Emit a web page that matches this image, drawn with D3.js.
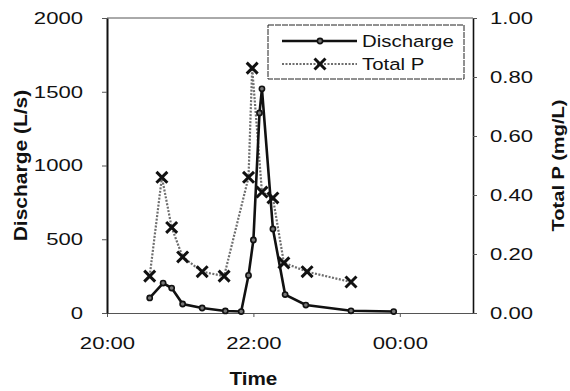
<!DOCTYPE html>
<html>
<head>
<meta charset="utf-8">
<script src="https://cdn.jsdelivr.net/npm/d3@7"></script>
<style>
  body { margin: 0; background: #fff; }
  svg text { font-family: "Liberation Sans", Arial, sans-serif; fill: #111; }
</style>
</head>
<body>
<svg id="chart"></svg>
<script>
// sample times (HH:MM, evening -> past midnight)
const dischargeTimes = ["20:35", "20:46", "20:53", "21:02", "21:18", "21:37", "21:50", "21:56",
  "22:00", "22:05", "22:07", "22:16", "22:26", "22:43", "23:20", "23:55"];
const dischargeValues = [102, 203, 169, 61, 34, 14, 10, 255, 495, 1356, 1520, 570, 125, 54, 15, 10];

const totalPTimes = ["20:35", "20:45", "20:53", "21:02", "21:18", "21:36", "21:56", "21:59",
  "22:07", "22:16", "22:25", "22:44", "23:20"];
const totalPValues = [0.125, 0.46, 0.29, 0.19, 0.14, 0.125, 0.46, 0.83, 0.41, 0.39, 0.17, 0.14, 0.105];

const leftTicks = [0, 500, 1000, 1500, 2000];
const rightTicks = [0, 0.2, 0.4, 0.6, 0.8, 1.0];
const timeTicks = ["20:00", "22:00", "00:00"];
const timeRange = ["20:00", "01:00"];

const width = 570, height = 391;
const margin = { top: 18, right: 97, bottom: 78, left: 107 };
const innerW = width - margin.left - margin.right;
const innerH = height - margin.top - margin.bottom;

// turn "HH:MM" into a Date, anything before noon belongs to the next day
function toDate(s) {
  const [h, m] = s.split(":").map(Number);
  return new Date(2000, 0, h < 12 ? 2 : 1, h, m);
}

// fonts in the scan are wider than Arial, stretch text along its baseline
function widen(sel, s) {
  sel.each(function () {
    const t = d3.select(this);
    const ax = +t.attr("x") || 0;
    t.attr("transform", `translate(${ax * (1 - s)},0) scale(${s},1)`);
  });
}

const svg = d3.select("#chart").attr("width", width).attr("height", height);
const g = svg.append("g").attr("transform", `translate(${margin.left},${margin.top})`);

const x = d3.scaleTime().domain(timeRange.map(toDate)).range([0, innerW]);
const yL = d3.scaleLinear().domain([0, 2000]).range([innerH, 0]);
const yR = d3.scaleLinear().domain([0, 1]).range([innerH, 0]);

// top border
g.append("line").attr("x1", 0).attr("x2", innerW).attr("y1", 0).attr("y2", 0)
  .attr("stroke", "#555").attr("stroke-width", 1);

// bottom axis
const gx = g.append("g").attr("transform", `translate(0,${innerH})`)
  .call(d3.axisBottom(x).tickValues(timeTicks.map(toDate)).tickFormat(d3.timeFormat("%H:%M"))
    .tickSizeInner(4).tickSizeOuter(0).tickPadding(20));
gx.select(".domain").attr("stroke", "#555").attr("stroke-width", 1);
gx.selectAll(".tick line").attr("stroke", "#555");
gx.selectAll("text").style("font-size", "17px");
widen(gx.selectAll("text"), 1.3);

// left axis
const gl = g.append("g")
  .call(d3.axisLeft(yL).tickValues(leftTicks).tickFormat(d3.format("d"))
    .tickSizeInner(5).tickSizeOuter(0).tickPadding(19));
gl.select(".domain").attr("stroke", "#111").attr("stroke-width", 2);
gl.selectAll(".tick line").attr("stroke", "#555");
gl.selectAll("text").style("font-size", "17px");
widen(gl.selectAll("text"), 1.3);

// right axis
const gr = g.append("g").attr("transform", `translate(${innerW},0)`)
  .call(d3.axisRight(yR).tickValues(rightTicks).tickFormat(d3.format(".2f"))
    .tickSizeInner(4).tickSizeOuter(0).tickPadding(13));
gr.select(".domain").attr("stroke", "#111").attr("stroke-width", 1.6);
gr.selectAll(".tick line").attr("stroke", "#555");
gr.selectAll("text").style("font-size", "17px");
widen(gr.selectAll("text"), 1.3);

// axis titles
svg.append("text")
  .attr("transform", `translate(27,${margin.top + innerH / 2}) rotate(-90) scale(1.2,1)`)
  .attr("text-anchor", "middle").style("font-size", "17.5px").style("font-weight", "bold")
  .text("Discharge (L/s)");
svg.append("text")
  .attr("transform", `translate(564,${margin.top + innerH / 2}) rotate(-90) scale(1.18,1)`)
  .attr("text-anchor", "middle").style("font-size", "17px").style("font-weight", "bold")
  .text("Total P (mg/L)");
svg.append("text")
  .attr("transform", `translate(${margin.left + x(toDate("22:00"))},385) scale(1.15,1)`)
  .attr("text-anchor", "middle").style("font-size", "18px").style("font-weight", "bold")
  .text("Time");

const discharge = dischargeTimes.map((t, i) => ({ t: toDate(t), v: dischargeValues[i] }));
const totalP = totalPTimes.map((t, i) => ({ t: toDate(t), v: totalPValues[i] }));

// Total P: dotted grey line with bold crosses
g.append("path").datum(totalP)
  .attr("fill", "none").attr("stroke", "#6e6e6e").attr("stroke-width", 2.2)
  .attr("stroke-dasharray", "2,1.5")
  .attr("d", d3.line().x(d => x(d.t)).y(d => yR(d.v)));

const cross = d3.symbol().type(d3.symbolTimes).size(80);
g.selectAll("path.tp").data(totalP).join("path").attr("class", "tp")
  .attr("transform", d => `translate(${x(d.t)},${yR(d.v)})`)
  .attr("d", cross).attr("fill", "#111").attr("stroke", "#111").attr("stroke-width", 3);

// Discharge: solid black line with small dots
g.append("path").datum(discharge)
  .attr("fill", "none").attr("stroke", "#111").attr("stroke-width", 2.6)
  .attr("d", d3.line().x(d => x(d.t)).y(d => yL(d.v)));

g.selectAll("circle.q").data(discharge).join("circle").attr("class", "q")
  .attr("cx", d => x(d.t)).attr("cy", d => yL(d.v)).attr("r", 2.6)
  .attr("fill", "#777").attr("stroke", "#111").attr("stroke-width", 1.6);

// legend
const lg = svg.append("g").attr("transform", "translate(268,25)");
lg.append("rect").attr("width", 196).attr("height", 54)
  .attr("fill", "#fff").attr("stroke", "#222").attr("stroke-width", 1)
  .attr("stroke-dasharray", "6,1");
const rows = [
  { name: "Discharge", y: 16, stroke: "#111", dash: null, w: 2.6 },
  { name: "Total P", y: 39, stroke: "#6e6e6e", dash: "2,1.5", w: 2.2 }
];
rows.forEach(r => {
  lg.append("line").attr("x1", 14).attr("x2", 89).attr("y1", r.y).attr("y2", r.y)
    .attr("stroke", r.stroke).attr("stroke-width", r.w).attr("stroke-dasharray", r.dash);
  if (r.name === "Discharge") {
    lg.append("circle").attr("cx", 52).attr("cy", r.y).attr("r", 2.6)
      .attr("fill", "#777").attr("stroke", "#111").attr("stroke-width", 1.6);
  } else {
    lg.append("path").attr("transform", `translate(52,${r.y})`).attr("d", cross)
      .attr("fill", "#111").attr("stroke", "#111").attr("stroke-width", 3);
  }
  lg.append("text").attr("x", 94).attr("y", r.y).attr("dy", "0.35em")
    .style("font-size", "17px").text(r.name);
  widen(lg.selectAll("text").filter(function () { return this.textContent === r.name; }), 1.2);
});
</script>
</body>
</html>
